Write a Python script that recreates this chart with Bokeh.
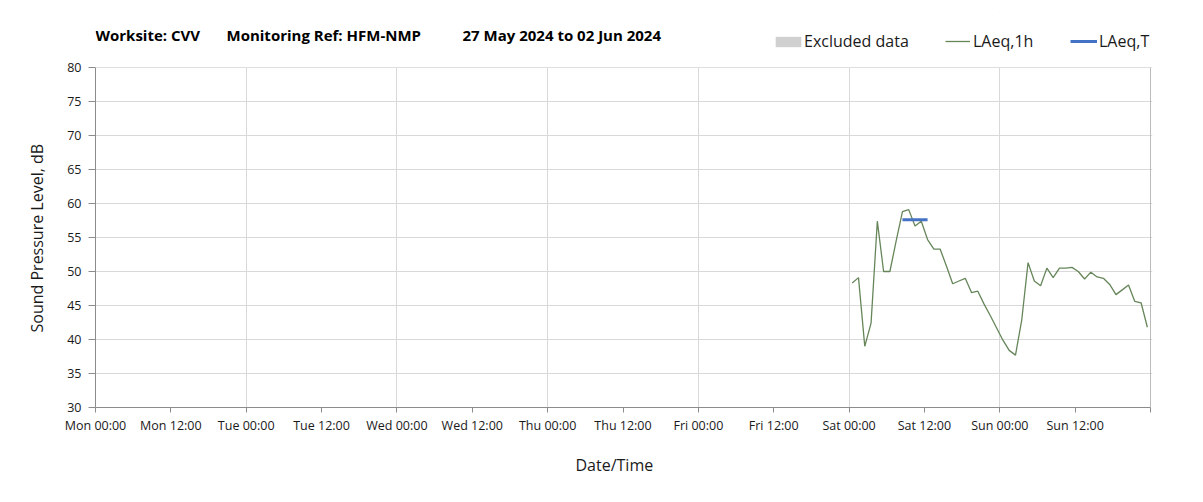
import pandas as pd
from bokeh.plotting import figure
from bokeh.models import (FixedTicker, Legend, LegendItem, Label, Range1d, BoxAnnotation,
                          ColumnDataSource, Title)
from bokeh.embed import file_html
from bokeh.resources import INLINE

# ---------------- data ----------------
period_start = "2024-05-27 00:00"   # Mon 27 May 2024
period_end = "2024-06-03 00:00"     # end of Sun 02 Jun 2024
laeq_1h_first = "2024-06-01 00:30"  # hourly values, plotted at mid-hour
laeq_1h = [48.3, 49.1, 39.0, 42.4, 57.4, 50.0, 50.0, 54.5, 58.8, 59.1, 56.7, 57.4,
           54.7, 53.3, 53.3, 50.8, 48.2, 48.6, 49.0, 46.9, 47.1, 45.2, 43.5, 41.7,
           39.9, 38.4, 37.7, 42.9, 51.3, 48.6, 47.9, 50.5, 49.1, 50.5, 50.5, 50.6,
           50.0, 48.9, 49.9, 49.2, 49.0, 48.1, 46.6, 47.3, 48.0, 45.6, 45.4, 41.8]
laeq_t_times = ["2024-06-01 08:30", "2024-06-01 12:30"]
laeq_t = [57.6, 57.6]
excluded_start = []   # no excluded periods in this week
excluded_end = []
x_tick_labels = ["Mon 00:00", "Mon 12:00", "Tue 00:00", "Tue 12:00", "Wed 00:00",
                 "Wed 12:00", "Thu 00:00", "Thu 12:00", "Fri 00:00", "Fri 12:00",
                 "Sat 00:00", "Sat 12:00", "Sun 00:00", "Sun 12:00", ""]
y_ticks = [30, 35, 40, 45, 50, 55, 60, 65, 70, 75, 80]
title_parts = ["Worksite: CVV", "Monitoring Ref: HFM-NMP", "27 May 2024 to 02 Jun 2024"]
x_label = "Date/Time"
y_label = "Sound Pressure Level, dB"

# ---------------- derived ----------------
t0 = pd.Timestamp(period_start)
to_h = lambda t: (pd.Timestamp(t) - t0) / pd.Timedelta(hours=1)
total_h = to_h(period_end)
times_1h = pd.date_range(laeq_1h_first, periods=len(laeq_1h), freq="h")
x_1h = [to_h(t) for t in times_1h]
x_t = [to_h(t) for t in laeq_t_times]
step = total_h / (len(x_tick_labels) - 1)
x_ticks = [i * step for i in range(len(x_tick_labels))]
day_ticks = x_ticks[::2]
nan = float("nan")
ex_src = ColumnDataSource(dict(
    left=[to_h(t) for t in excluded_start] or [nan],
    right=[to_h(t) for t in excluded_end] or [nan],
))

FONT = "Open Sans"
TXT = "#1a1a1a"

# layout (pixels): plot area x 95..1150, y 67 (80 dB) .. 407 (30 dB); the frame is
# extended upward (header drawn inside it) and 2px to the right (edge line).
W, H = 1203, 502
LEFT, RIGHT, TOP_AXIS, BOTTOM, FRAME_TOP, FRAME_RIGHT = 95, 1150, 67, 407, 12, 1152
y_lo, y_hi = y_ticks[0], y_ticks[-1]
y_top = y_lo + (y_hi - y_lo) * (BOTTOM - FRAME_TOP) / (BOTTOM - TOP_AXIS)
x_end = total_h * (FRAME_RIGHT - LEFT) / (RIGHT - LEFT)

p = figure(width=W, height=H, output_backend="svg", toolbar_location=None,
           x_range=Range1d(0, x_end), y_range=Range1d(y_lo, y_top),
           min_border_left=LEFT, min_border_right=W - FRAME_RIGHT,
           min_border_top=FRAME_TOP, min_border_bottom=H - BOTTOM)
p.outline_line_color = None
p.background_fill_color = "white"
p.border_fill_color = "white"

r_ex = p.quad(left="left", right="right", bottom=y_lo, top=y_hi, source=ex_src,
              fill_color="#d0d0d0", line_color=None)
r_1h = p.line(x_1h, laeq_1h, line_color="#66865a", line_width=1.3)
r_t = p.line(x_t, laeq_t, line_color="#4472C4", line_width=3)

# axes
p.xaxis.ticker = FixedTicker(ticks=x_ticks, minor_ticks=[])
p.xaxis.major_label_overrides = {x: lab for x, lab in zip(x_ticks, x_tick_labels)}
p.xaxis.bounds = (0, total_h)
p.yaxis.ticker = FixedTicker(ticks=y_ticks, minor_ticks=[])
p.yaxis.bounds = (y_lo, y_hi)
for ax in (p.xaxis[0], p.yaxis[0]):
    ax.axis_line_color = "#8c8c8c"
    ax.major_tick_line_color = "#8c8c8c"
    ax.major_tick_in = 0
    ax.major_label_text_font = FONT
    ax.major_label_text_font_size = "12.5px"
    ax.major_label_text_color = TXT
p.xaxis.major_tick_out = 5
p.yaxis.major_tick_out = 7
p.xaxis.major_label_standoff = 4
p.yaxis.major_label_standoff = 7

# axis titles (side titles, positioned along the 30-80 dB / Mon-Sun area)
p.add_layout(Title(text=y_label, align="left", offset=75, standoff=33,
                   text_font=FONT, text_font_size="16px", text_font_style="normal",
                   text_color=TXT), "left")
p.add_layout(Title(text=x_label, align="left", offset=480, standoff=30,
                   text_font=FONT, text_font_size="16px", text_font_style="normal",
                   text_color=TXT), "below")

# grid
p.xgrid.ticker = FixedTicker(ticks=day_ticks, minor_ticks=[])
p.ygrid.ticker = FixedTicker(ticks=y_ticks, minor_ticks=[])
p.xgrid.grid_line_color = "#d9d9d9"
p.ygrid.grid_line_color = "#d9d9d9"

# white header area above the 80 dB line (hides the grid there)
p.add_layout(BoxAnnotation(bottom=y_hi, fill_color="white", fill_alpha=1.0,
                           line_color=None))
p.add_layout(BoxAnnotation(bottom=y_hi, top=y_hi, left=0, right=total_h, fill_alpha=0,
                           line_color="#cfcfcf", line_width=1))
# right edge of the plot area
p.add_layout(BoxAnnotation(left=total_h, right=total_h, bottom=y_lo, top=y_hi,
                           fill_alpha=0, line_color="#a0a0a0", line_width=1))

# title (three segments)
for txt, sx in zip(title_parts, [0, 131, 367]):
    p.add_layout(Label(x=sx, y=BOTTOM - 34, x_units="screen", y_units="screen", text=txt,
                       text_font=FONT, text_font_style="bold", text_font_size="15px",
                       text_color="#000000", text_baseline="alphabetic"))

# legends
legend_specs = [("Excluded data", r_ex, 677, 32, 13, 0),
                ("LAeq,1h", r_1h, 850, 25, 10, 3),
                ("LAeq,T", r_t, 975, 27, 10, 2)]
for lab, r, lx, gw, gh, so in legend_specs:
    leg = Legend(items=[LegendItem(label=lab, renderers=[r])], location=(lx, BOTTOM - 52),
                 orientation="horizontal", border_line_color=None,
                 background_fill_alpha=0, padding=0, margin=0, spacing=0,
                 glyph_width=gw, glyph_height=gh, label_standoff=so,
                 label_text_font=FONT, label_text_font_size="16px",
                 label_text_color=TXT, label_height=16)
    p.add_layout(leg)

open("out.html", "w").write(file_html(p, INLINE))
